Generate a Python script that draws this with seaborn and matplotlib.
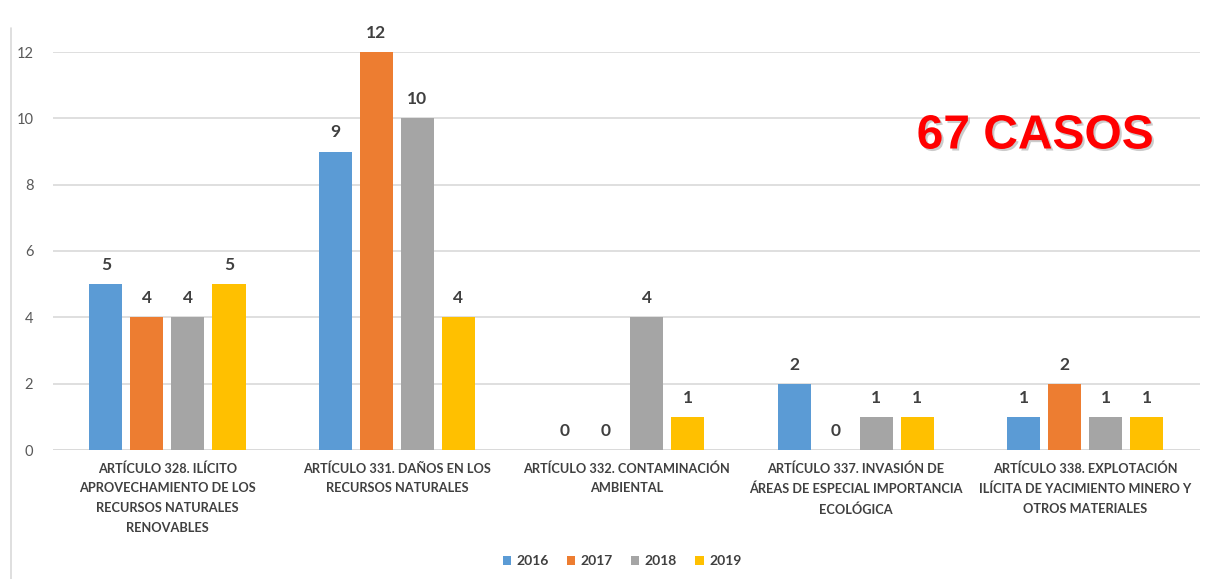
import matplotlib
matplotlib.use("Agg")
import matplotlib.pyplot as plt
import matplotlib.patheffects as pe
from matplotlib.lines import Line2D
import seaborn as sns
import pandas as pd

# datos
articulos = [
    "ARTÍCULO 328. ILÍCITO\nAPROVECHAMIENTO DE LOS\nRECURSOS NATURALES\nRENOVABLES",
    "ARTÍCULO 331. DAÑOS EN LOS\nRECURSOS NATURALES",
    "ARTÍCULO 332. CONTAMINACIÓN\nAMBIENTAL",
    "ARTÍCULO 337. INVASIÓN DE\nÁREAS DE ESPECIAL IMPORTANCIA\nECOLÓGICA",
    "ARTÍCULO 338. EXPLOTACIÓN\nILÍCITA DE YACIMIENTO MINERO Y\nOTROS MATERIALES",
]
anios = ["2016", "2017", "2018", "2019"]
casos_2016 = [5, 9, 0, 2, 1]
casos_2017 = [4, 12, 0, 0, 2]
casos_2018 = [4, 10, 4, 1, 1]
casos_2019 = [5, 4, 1, 1, 1]
colores = ["#5B9BD5", "#ED7D31", "#A5A5A5", "#FFC000"]

filas = []
for anio, vals in zip(anios, [casos_2016, casos_2017, casos_2018, casos_2019]):
    for art, v in zip(articulos, vals):
        filas.append({"articulo": art, "anio": anio, "casos": v})
df = pd.DataFrame(filas)

sns.set_theme(style="white")
plt.rcParams["font.family"] = ["Lato", "DejaVu Sans"]

fig = plt.figure(figsize=(12.06, 5.79), dpi=100)
ax = fig.add_axes([52.75 / 1206, 1 - 450 / 579, (1200 - 52.75) / 1206, (450 - 52) / 579])

sns.barplot(data=df, x="articulo", y="casos", hue="anio", order=articulos,
            hue_order=anios, palette=colores, width=0.715, gap=0.195,
            saturation=1, ax=ax, legend=True, linewidth=0)

for cont in ax.containers:
    ax.bar_label(cont, padding=8, fontsize=12.5, fontweight="bold",
                 color="#404040")

ax.set_ylim(0, 12)
ax.set_yticks(range(0, 13, 2))
ax.set_xlim(-0.5, 4.5)
ax.yaxis.grid(True, color="#D9D9D9", linewidth=1.2)
ax.set_axisbelow(True)
for s in ax.spines.values():
    s.set_visible(False)
ax.axhline(0, color="#D9D9D9", linewidth=1.2, zorder=0)
ax.set_xlabel("")
ax.set_ylabel("")
ax.tick_params(axis="y", length=0, pad=14, labelsize=10.5, labelcolor="#595959")
ax.tick_params(axis="x", length=0, pad=9)
for lbl in ax.get_xticklabels():
    lbl.set_fontsize(9.2)
    lbl.set_fontweight("bold")
    lbl.set_color("#404040")
    lbl.set_linespacing(1.75)
    lbl.set_va("top")

sns.move_legend(ax, "center", bbox_to_anchor=(622 / 1206, 1 - 561 / 579),
                bbox_transform=fig.transFigure, ncol=4, frameon=False,
                title=None, handlelength=0.6, handleheight=0.6,
                handletextpad=0.4, columnspacing=1.3,
                prop={"size": 10, "weight": "bold"})
for t in ax.get_legend().get_texts():
    t.set_color("#404040")

fig.text(1035 / 1206, 1 - 136 / 579, "67 CASOS", color="#FF0000",
         fontsize=34.5, fontweight="bold", family="Liberation Sans",
         ha="center", va="center",
         path_effects=[pe.withSimplePatchShadow(offset=(1.5, -1.5),
                                                 shadow_rgbFace="#999999",
                                                 alpha=0.5)])

fig.add_artist(Line2D([11 / 1206, 11 / 1206], [0, 1 - 28 / 579],
                      color="#D9D9D9", linewidth=1.2, transform=fig.transFigure))

fig.savefig("out.png", dpi=100)
